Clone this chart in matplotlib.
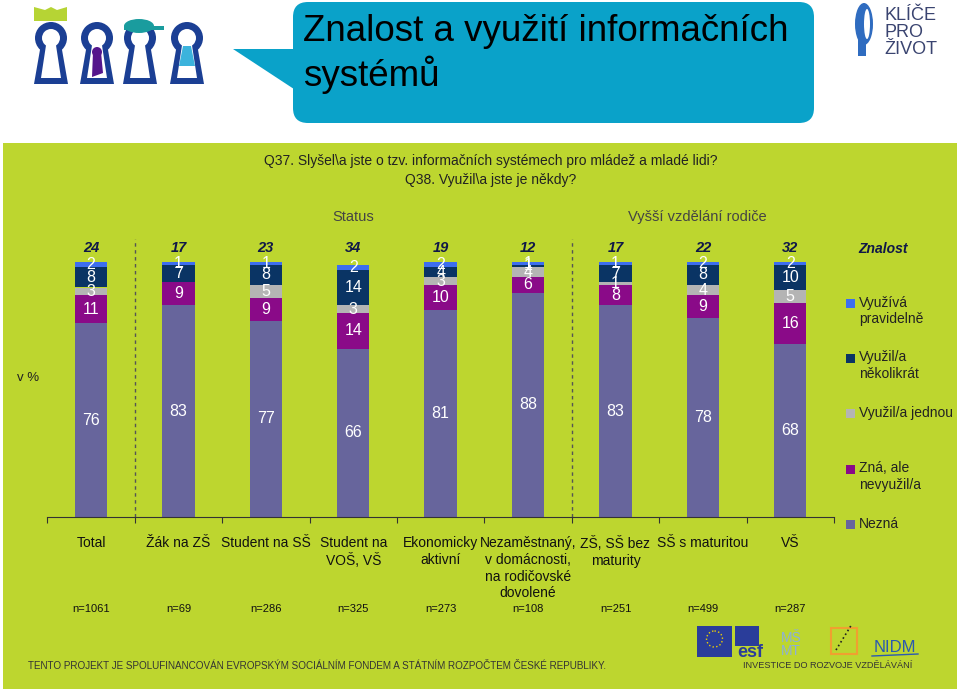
import matplotlib
matplotlib.use("Agg")
import matplotlib.pyplot as plt
from matplotlib.patches import Rectangle, FancyBboxPatch, Polygon, Circle, Ellipse

plt.rcParams["font.family"] = ["Liberation Sans", "DejaVu Sans"]

categories = [
    "Total",
    "Žák na ZŠ",
    "Student na SŠ",
    "Student na\nVOŠ, VŠ",
    "Ekonomicky\naktivní",
    "Nezaměstnaný,\nv domácnosti,\nna rodičovské\ndovolené",
    "ZŠ, SŠ bez\nmaturity",
    "SŠ s maturitou",
    "VŠ",
]
sample_sizes = ["n=1061", "n=69", "n=286", "n=325", "n=273", "n=108", "n=251", "n=499", "n=287"]

# stacked from the bottom up
nezna = [76, 83, 77, 66, 81, 88, 83, 78, 68]
zna_nevyuzil = [11, 9, 9, 14, 10, 6, 8, 9, 16]
vyuzil_jednou = [3, 0, 5, 3, 3, 4, 1, 4, 5]
vyuzil_nekolikrat = [8, 7, 8, 14, 4, 1, 7, 8, 10]
vyuziva_pravidelne = [2, 1, 1, 2, 2, 1, 1, 2, 2]
znalost_total = [24, 17, 23, 34, 19, 12, 17, 22, 32]

series_names = ["Nezná", "Zná, ale\nnevyužil/a", "Využil/a jednou", "Využil/a\nněkolikrát", "Využívá\npravidelně"]
series_values = [nezna, zna_nevyuzil, vyuzil_jednou, vyuzil_nekolikrat, vyuziva_pravidelne]
series_colors = ["#67659C", "#8A0A88", "#B4B4B4", "#0A3464", "#3D6EEF"]

GREEN = "#BDD62F"
TEAL = "#0AA2C9"
NARROW = ["Liberation Sans Narrow", "Liberation Sans"]
W, H = 960, 696

fig = plt.figure(figsize=(W / 100, H / 100), dpi=100)

# decoration layer in pixel coordinates
ov = fig.add_axes([0, 0, 1, 1], zorder=0)
ov.set_xlim(0, W)
ov.set_ylim(H, 0)
ov.axis("off")

ov.add_patch(Rectangle((3, 143), 954, 546, color=GREEN, lw=0))

# title bubble
ov.add_patch(Polygon([(233, 49), (300, 49), (300, 93)], closed=True, color=TEAL, lw=0))
ov.add_patch(FancyBboxPatch((293, 2), 521, 121, boxstyle="round,pad=0,rounding_size=15",
                            color=TEAL, lw=0))
ov.text(303, 14, "Znalost a využití informačních\nsystémů", fontsize=26.5, color="black",
        ha="left", va="top", linespacing=1.2)

# keyhole logos
KEY = "#1B3F94"
for cx in [51, 97, 140, 187]:
    ov.add_patch(Circle((cx, 38), 16, color=KEY, lw=0))
    ov.add_patch(Polygon([(cx - 10, 44), (cx - 17, 84), (cx + 17, 84), (cx + 10, 44)], color=KEY, lw=0))
    ov.add_patch(Circle((cx, 38), 9, color="white", lw=0))
    ov.add_patch(Polygon([(cx - 4.5, 42), (cx - 10, 78), (cx + 10, 78), (cx + 4.5, 42)], color="white", lw=0))
ov.add_patch(Polygon([(34, 7), (45, 10), (51, 7), (57, 10), (67, 7), (67, 21), (34, 21)],
                     color="#B6D434", lw=0))
ov.add_patch(Ellipse((139, 26), 30, 14, color="#1A9C9E", lw=0))
ov.add_patch(Rectangle((124, 26), 40, 4, color="#1A9C9E", lw=0))
ov.add_patch(Polygon([(93, 52), (101, 52), (103, 73), (92, 77)], color="#55168C", lw=0))
ov.add_patch(Circle((97, 52), 5, color="#55168C", lw=0))
ov.add_patch(Polygon([(183, 46), (191, 46), (195, 66), (179, 66)], color="#3BB3DC", lw=0))

# KLÍČE PRO ŽIVOT
ov.add_patch(Ellipse((864, 24), 18, 42, color="#2F6CC0", lw=0))
ov.add_patch(Rectangle((858, 38), 8, 18, color="#2F6CC0", lw=0))
ov.add_patch(Ellipse((867, 24), 6, 30, color="white", lw=0))
for y, t in [(20, "KLÍČE"), (37, "PRO"), (54, "ŽIVOT")]:
    ov.text(884, y, t, fontsize=13, color="#3A4470", ha="left", va="baseline", family=NARROW)

# question and group headers
ov.text(491, 161, "Q37. Slyšel\\a jste o tzv. informačních systémech pro mládež a mladé lidi?",
        fontsize=10, color="#222222", ha="center", va="center")
ov.text(491, 180, "Q38. Využil\\a jste je někdy?", fontsize=10, color="#222222", ha="center", va="center")
ov.text(353, 217, "Status", fontsize=10.5, color="#444444", ha="center", va="center")
ov.text(697, 217, "Vyšší vzdělání rodiče", fontsize=10.5, color="#444444", ha="center", va="center")
ov.text(28, 378, "v %", fontsize=9.5, color="#222222", ha="center", va="center")

# legend
ov.text(858, 249, "Znalost", fontsize=10, color="#101848", fontweight="bold", fontstyle="italic",
        ha="left", va="center")
legend_y = [303, 358, 413, 469, 524]
for name, color, y in zip(series_names[::-1], series_colors[::-1], legend_y):
    ov.add_patch(Rectangle((846, y - 4.5), 9, 9, color=color, lw=0))
    ov.text(859, y - 7.5, name, fontsize=10, color="#222222", ha="left", va="top", linespacing=1.2)

# footer
ov.text(28, 666, "TENTO PROJEKT JE SPOLUFINANCOVÁN EVROPSKÝM SOCIÁLNÍM FONDEM A STÁTNÍM ROZPOČTEM ČESKÉ REPUBLIKY.",
        fontsize=7.1, color="#333333", ha="left", va="center", family=NARROW)
ov.text(828, 666, "INVESTICE DO ROZVOJE VZDĚLÁVÁNÍ", fontsize=6.6, color="#333333", ha="center", va="center",
        family=NARROW)
ov.add_patch(Rectangle((697, 626), 35, 26, color="#2A3D9A", lw=0))
ov.add_patch(Circle((714.5, 639), 8, fill=False, ec="#F2D200", lw=1, ls=":"))
ov.add_patch(Rectangle((697, 651), 35, 6, color="#2A3D9A", lw=0))
ov.add_patch(Rectangle((735, 626), 24, 20, color="#2A3D9A", lw=0))
ov.text(750, 657, "esf", fontsize=13, color="#2A3D9A", fontweight="bold", ha="center", va="baseline")
ov.text(791, 655, "MŠ\nMT", fontsize=10, color="#8DB0D8", ha="center", va="baseline", linespacing=0.9,
        family=NARROW)
ov.add_patch(Rectangle((831, 628), 26, 26, fill=False, ec="#F0A030", lw=1.5))
ov.plot([836, 852], [650, 624], color="#222222", lw=1.2, ls=":")
ov.text(895, 652, "NIDM", fontsize=12, color="#2A5AB0", ha="center", va="baseline", family=NARROW)
ov.plot([872, 918], [656, 654], color="#2A5AB0", lw=1)

# chart
ax = fig.add_axes([47.3 / W, 1 - 517 / H, 786.7 / W, 255 / H], zorder=2)
ax.patch.set_alpha(0)
x = list(range(len(categories)))
bottom = [0] * len(categories)
for vals, color in zip(series_values, series_colors):
    bars = ax.bar(x, vals, width=0.37, bottom=bottom, color=color, edgecolor="none")
    ax.bar_label(bars, labels=[str(v) if v else "" for v in vals], label_type="center",
                 color="white", fontsize=11.5)
    bottom = [b + v for b, v in zip(bottom, vals)]

for i, t in enumerate(znalost_total):
    ax.annotate(str(t), (i, 100), xytext=(0, 5), textcoords="offset points", ha="center",
                va="bottom", fontsize=10.5, fontweight="bold", fontstyle="italic", color="#101848",
                annotation_clip=False)
ax.set_xlim(-0.5, len(categories) - 0.5)
ax.set_ylim(0, 100)

for xv in [0.5, 5.5]:
    ax.axvline(xv, ymin=0, ymax=1.09, color="#555555", lw=1, ls=(0, (2.5, 2.5)), clip_on=False)

for s in ["left", "right", "top"]:
    ax.spines[s].set_visible(False)
ax.spines["bottom"].set_color("#333333")
ax.set_yticks([])
ax.set_xticks([i - 0.5 for i in range(len(categories) + 1)])
ax.set_xticklabels([])
ax.tick_params(axis="x", length=4, color="#333333")

tr = ax.get_xaxis_transform()
for i, (cat, n) in enumerate(zip(categories, sample_sizes)):
    ax.text(i, -0.075, cat, transform=tr, ha="center", va="top", fontsize=10, color="#111111",
            linespacing=1.25)
    ax.text(i, -0.361, n, transform=tr, ha="center", va="center", fontsize=8, color="#111111")

fig.savefig("out.png", dpi=100, facecolor="white")
